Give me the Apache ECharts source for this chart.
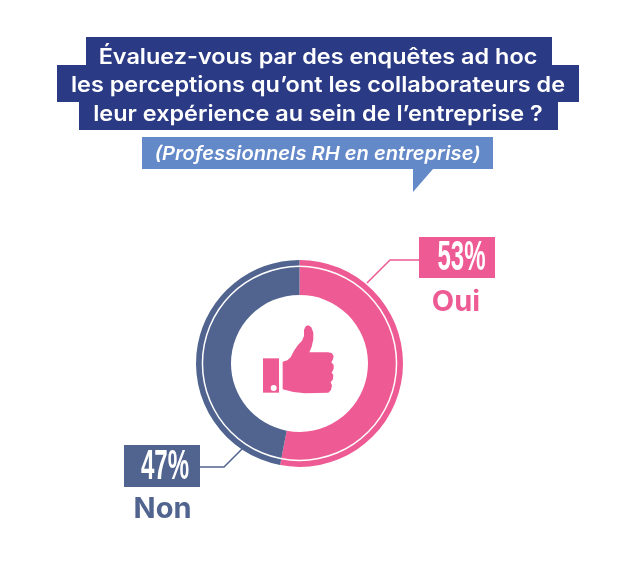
<!DOCTYPE html>
<html>
<head>
<meta charset="utf-8">
<style>html,body{margin:0;padding:0;background:#fff}#chart{width:630px;height:567px}</style>
<script src="https://cdn.jsdelivr.net/npm/echarts@6/dist/echarts.min.js"></script>
</head>
<body>
<div id="chart"></div>
<script>
const categories = ['Oui', 'Non'];
const shares = [53, 47];
const sliceColors = ['#EE5A93', '#50648F'];
const titleLines = [
  'Évaluez-vous par des enquêtes ad hoc',
  'les perceptions qu’ont les collaborateurs de',
  'leur expérience au sein de l’entreprise ?'
];
const subtitle = '(Professionnels RH en entreprise)';

const NAVY = '#2A3A85', SKY = '#6489C9';
const titleFont = 'Inter, Lato, sans-serif';
const figureFont = '"Liberation Sans Narrow", "Liberation Sans", sans-serif';

// Banner strips behind each title line
const strips = [
  { x: 86, y: 37, width: 466, height: 28 },
  { x: 57, y: 65, width: 522, height: 37 },
  { x: 79, y: 102, width: 479, height: 28 }
];
const titleCentres = [57.5, 86, 114.5];

const graphic = [];
strips.forEach(s => graphic.push({ type: 'rect', shape: s, style: { fill: NAVY } }));
titleLines.forEach((t, i) => graphic.push({
  type: 'text', x: 318, y: titleCentres[i], scaleX: 1.09, z: 5,
  style: { text: t, fill: '#fff', font: '600 21.5px ' + titleFont, align: 'center', verticalAlign: 'middle' }
}));

// Speech-bubble subtitle
graphic.push({ type: 'polygon', shape: { points: [[142, 137], [493, 137], [493, 169], [433, 169], [413, 192], [413, 169], [142, 169]] }, style: { fill: SKY } });
graphic.push({
  type: 'text', x: 317.5, y: 154, scaleX: 1.06, z: 5,
  style: { text: subtitle, fill: '#fff', font: 'italic 600 19px ' + titleFont, align: 'center', verticalAlign: 'middle' }
});

// Value callouts: leader, box, figure and category name
const callouts = [
  { leader: [[367, 283], [390, 260], [419, 260]], box: { x: 419, y: 237, width: 76, height: 41 }, fig: [461.5, 258], name: [456, 302] },
  { leader: [[242, 449], [224, 467], [200, 467]], box: { x: 124, y: 445, width: 76, height: 42 }, fig: [165, 467], name: [162.5, 509] }
];
callouts.forEach((c, i) => {
  const color = sliceColors[i];
  graphic.push({ type: 'polyline', shape: { points: c.leader }, style: { stroke: color, lineWidth: 1.5, fill: null } });
  graphic.push({ type: 'rect', shape: c.box, style: { fill: color } });
  graphic.push({
    type: 'text', x: c.fig[0], y: c.fig[1], scaleX: 0.56, z: 5,
    style: { text: shares[i] + '%', fill: '#fff', font: 'bold 43px ' + figureFont, align: 'center', verticalAlign: 'middle' }
  });
  graphic.push({
    type: 'text', x: c.name[0], y: c.name[1], z: 5,
    style: { text: categories[i], fill: color, font: '700 29px ' + titleFont, align: 'center', verticalAlign: 'middle' }
  });
});

// Thumbs-up pictogram in the middle of the ring
graphic.push({
  type: 'group', x: 190, y: 250, scaleX: 1 / 3, scaleY: 1 / 3, z: 6,
  children: [
    { type: 'rect', shape: { x: 219, y: 325, width: 48, height: 103 }, style: { fill: sliceColors[0] } },
    { type: 'circle', shape: { cx: 251, cy: 414, r: 9 }, style: { fill: '#fff' } },
    {
      type: 'polygon',
      shape: {
        points: [
          [278, 335], [292, 331], [302, 322], [312, 302], [324, 285], [336, 272], [342, 258], [342, 240],
          [347, 229], [355, 226], [364, 232], [370, 248], [370, 268], [365, 290], [358, 307],
          [414, 307], [425, 309], [431, 318], [429, 328], [424, 337], [431, 345], [431, 356], [425, 368],
          [430, 375], [429, 388], [422, 397], [426, 406], [423, 420], [415, 428],
          [345, 430], [310, 426], [278, 418]
        ]
      },
      style: { fill: sliceColors[0] }
    }
  ]
});

const chart = echarts.init(document.getElementById('chart'), null, { renderer: 'canvas' });
chart.setOption({
  backgroundColor: '#fff',
  animation: false,
  graphic: { elements: graphic },
  series: [
    {
      type: 'pie',
      center: [299.5, 363.4],
      radius: [68.5, 103.5],
      startAngle: 90,
      clockwise: true,
      silent: true,
      label: { show: false },
      labelLine: { show: false },
      data: categories.map((name, i) => ({ name, value: shares[i], itemStyle: { color: sliceColors[i] } }))
    },
    {
      // Thin white circle inlaid in the ring
      type: 'pie',
      center: [299.5, 363.4],
      radius: [96.3, 97.8],
      silent: true,
      z: 3,
      label: { show: false },
      labelLine: { show: false },
      itemStyle: { color: '#fff' },
      data: [{ value: 1 }]
    }
  ]
});
</script>
</body>
</html>
